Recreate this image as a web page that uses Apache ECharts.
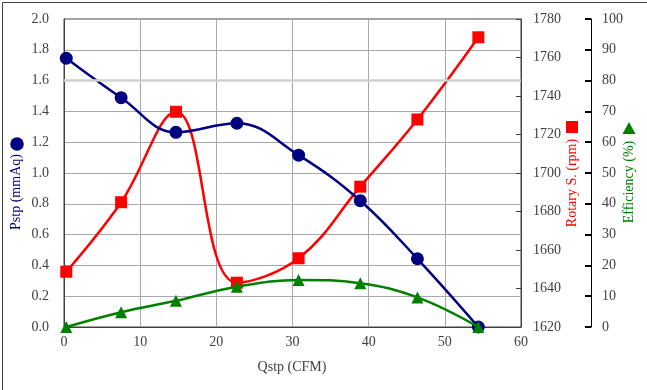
<!DOCTYPE html>
<html><head><meta charset="utf-8">
<script src="https://cdn.jsdelivr.net/npm/echarts@6/dist/echarts.min.js"></script>
<style>html,body{margin:0;padding:0;background:#fff}#c{width:647px;height:390px}</style>
</head><body><div id="c"></div>
<script>
var qstp = [0.3, 7.5, 14.7, 22.7, 30.8, 38.9, 46.4, 54.4];
var pstp = [1.745, 1.489, 1.264, 1.323, 1.116, 0.82, 0.443, 0];
var rpm = [1648.7, 1684.8, 1731.8, 1643, 1655.7, 1692.9, 1727.8, 1770.5];
var eff = [0, 4.8, 8.5, 13.1, 15.3, 14.2, 9.6, 0];
var xTicks = [0, 10, 20, 30, 40, 50, 60];

function pairs(xs, ys){ return xs.map(function(x,i){return [x, ys[i]];}); }
var font = '"Liberation Serif", "DejaVu Serif", serif';
var chart = echarts.init(document.getElementById('c'));
chart.setOption({
  animation: false,
  textStyle: {fontFamily: font},
  grid: {left: 64, right: 126, top: 19, bottom: 63, show: true, borderColor: '#404040', borderWidth: 1},
  xAxis: {
    type: 'value', min: xTicks[0], max: xTicks[xTicks.length-1], interval: 10,
    axisLine: {lineStyle: {color: '#404040', width: 1}},
    axisTick: {show: false},
    axisLabel: {color: '#404040', fontSize: 14, fontFamily: font, margin: 8},
    splitLine: {show: true, lineStyle: {color: '#a8a8a8', width: 1}}
  },
  yAxis: [
    {type: 'value', min: 0, max: 2.0, interval: 0.2, position: 'left',
     axisLine: {show: true, lineStyle: {color: '#404040', width: 1}},
     axisTick: {show: false},
     axisLabel: {color: '#404040', fontSize: 14, fontFamily: font, margin: 15, formatter: function(v){return v.toFixed(1);}},
     splitLine: {show: true, lineStyle: {color: '#a8a8a8', width: 1}}},
    {type: 'value', min: 1620, max: 1780, interval: 20, position: 'right',
     axisLine: {show: true, lineStyle: {color: '#404040', width: 1}},
     axisTick: {show: true, inside: true, length: 5, lineStyle: {color: '#404040'}},
     axisLabel: {color: '#404040', fontSize: 14, fontFamily: font, margin: 12, formatter: function(v){return String(v);}},
     splitLine: {show: false}},
    {type: 'value', min: 0, max: 100, interval: 10, position: 'right', offset: 70,
     axisLine: {show: true, lineStyle: {color: '#000', width: 1}},
     axisTick: {show: true, inside: true, length: 6, lineStyle: {color: '#000', width: 2}},
     axisLabel: {color: '#404040', fontSize: 14, fontFamily: font, margin: 11},
     splitLine: {show: false}}
  ],
  graphic: [
    {type: 'rect', left: 0, top: 0, shape: {width: 646, height: 389}, style: {fill: 'none', stroke: '#404040', lineWidth: 1}, z: 100, silent: true},
    {type: 'circle', shape: {cx: 17, cy: 144, r: 6.8}, style: {fill: '#000080'}},
    {type: 'text', x: 16, y: 192, rotation: Math.PI/2, style: {text: 'Pstp (mmAq)', fill: '#000080', font: '14px ' + font, textAlign: 'center', textVerticalAlign: 'middle'}},
    {type: 'rect', shape: {x: 566, y: 121, width: 12, height: 12}, style: {fill: '#ff0000'}},
    {type: 'text', x: 572, y: 183, rotation: Math.PI/2, style: {text: 'Rotary S. (rpm)', fill: '#ff0000', font: '14px ' + font, textAlign: 'center', textVerticalAlign: 'middle'}},
    {type: 'polygon', shape: {points: [[629, 122], [635.5, 134], [622.5, 134]]}, style: {fill: '#008000'}},
    {type: 'text', x: 629, y: 182, rotation: Math.PI/2, style: {text: 'Efficiency (%)', fill: '#008000', font: '14px ' + font, textAlign: 'center', textVerticalAlign: 'middle'}},
    {type: 'text', x: 292, y: 367, style: {text: 'Qstp (CFM)', fill: '#404040', font: '14px ' + font, textAlign: 'center', textVerticalAlign: 'middle'}}
  ],
  series: [
    {type: 'line', yAxisIndex: 0, data: [], z: 1,
     markLine: {silent: true, symbol: 'none', label: {show: false}, lineStyle: {color: '#d0d0d0', width: 2.5, type: 'solid'}, data: [{yAxis: 1.6}]}},
    {type: 'line', name: 'Pstp', yAxisIndex: 0, data: pairs(qstp, pstp), smooth: 0.4,
     symbol: 'circle', symbolSize: 13, lineStyle: {color: '#000080', width: 2.5}, itemStyle: {color: '#000080'}, z: 4},
    {type: 'line', name: 'Rotary', yAxisIndex: 1, data: pairs(qstp, rpm), smooth: 0.4,
     symbol: 'rect', symbolSize: 12, lineStyle: {color: '#ff0000', width: 2.5}, itemStyle: {color: '#ff0000'}, z: 3},
    {type: 'line', name: 'Eff', yAxisIndex: 2, data: pairs(qstp, eff), smooth: 0.4,
     symbol: 'triangle', symbolSize: 12, lineStyle: {color: '#008000', width: 2.5}, itemStyle: {color: '#008000'}, z: 5}
  ]
});
</script></body></html>
